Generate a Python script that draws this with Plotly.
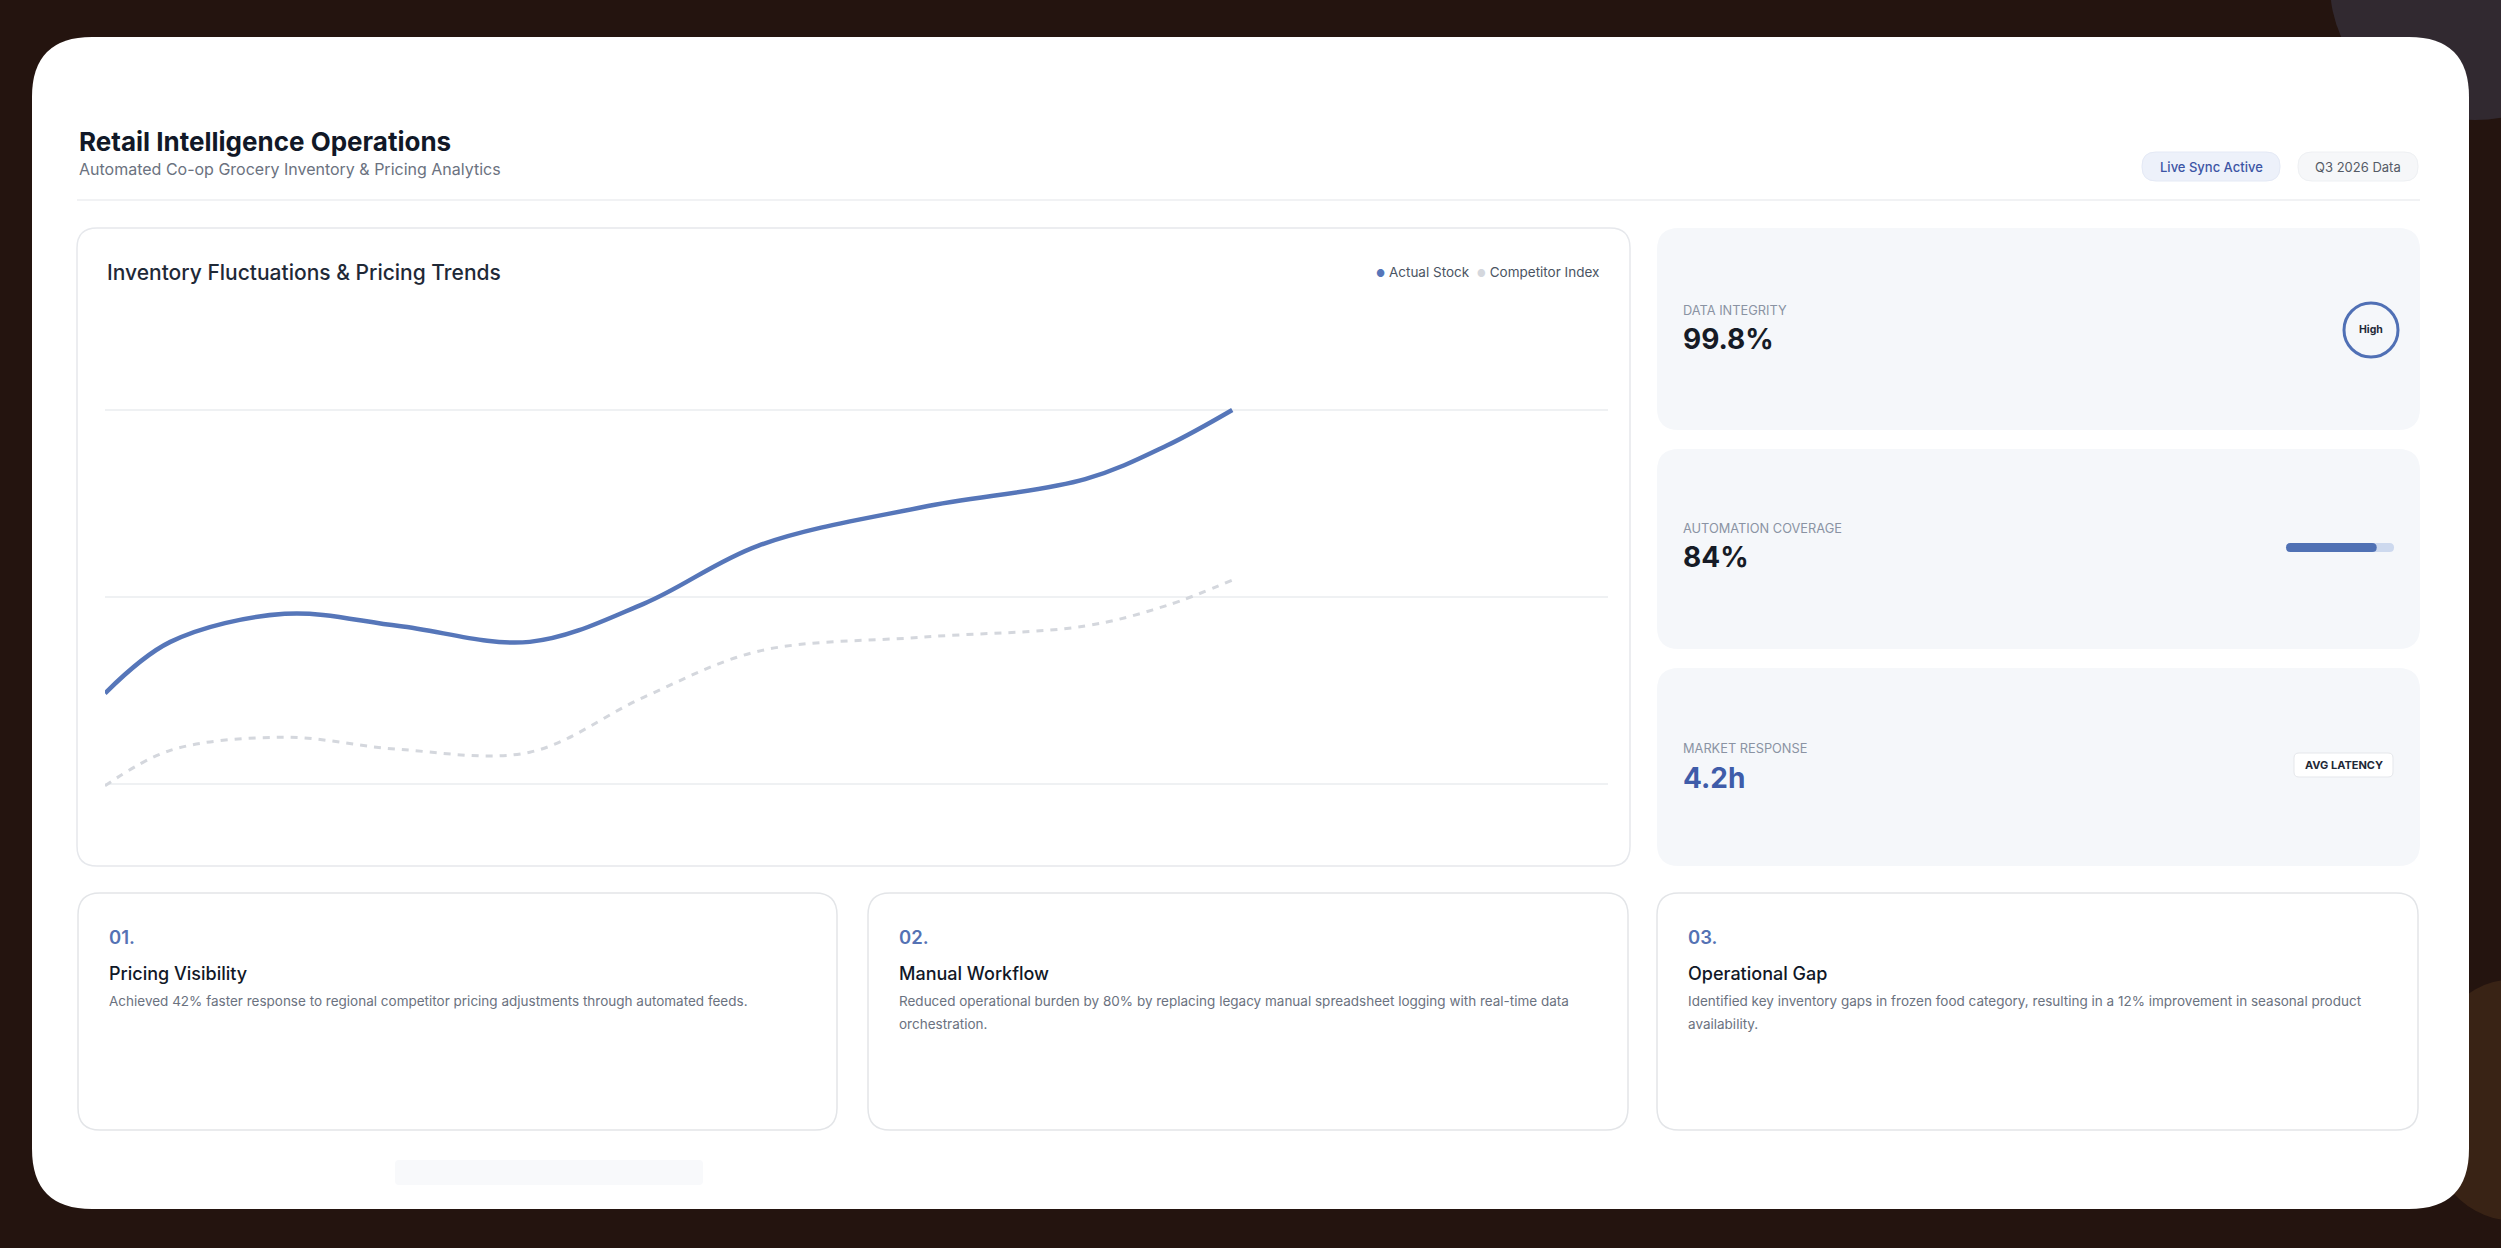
import plotly.graph_objects as go

# ---------------- data ----------------
days = [0, 4, 11, 18, 26, 33, 40, 50, 60, 65, 69]          # day of quarter
actual_stock = [29.7, 35.2, 38.2, 36.9, 35.2, 39.3, 45.5, 49.6, 52.6, 56.2, 60.0]
competitor_index = [19.8, 23.6, 25.0, 23.7, 23.4, 29.3, 34.2, 35.7, 36.9, 39.1, 41.8]
grid_values = [20, 40, 60]
series_names = ["Actual Stock", "Competitor Index"]

kpi_labels = ["DATA INTEGRITY", "AUTOMATION COVERAGE", "MARKET RESPONSE"]
kpi_values = ["99.8%", "84%", "4.2h"]
coverage_pct = 84

card_nums = ["01.", "02.", "03."]
card_titles = ["Pricing Visibility", "Manual Workflow", "Operational Gap"]
card_texts = [
    ["Achieved 42% faster response to regional competitor pricing adjustments through automated feeds."],
    ["Reduced operational burden by 80% by replacing legacy manual spreadsheet logging with real-time data",
     "orchestration."],
    ["Identified key inventory gaps in frozen food category, resulting in a 12% improvement in seasonal product",
     "availability."],
]

# ---------------- geometry helpers ----------------
W, H = 2501, 1248
FONT = "Inter"


def X(px):
    return px / W


def Y(py):
    return 1 - py / H


def rrect(x0, y0, x1, y1, r):
    p = [
        f"M{X(x0 + r)},{Y(y0)}",
        f"L{X(x1 - r)},{Y(y0)}",
        f"Q{X(x1)},{Y(y0)} {X(x1)},{Y(y0 + r)}",
        f"L{X(x1)},{Y(y1 - r)}",
        f"Q{X(x1)},{Y(y1)} {X(x1 - r)},{Y(y1)}",
        f"L{X(x0 + r)},{Y(y1)}",
        f"Q{X(x0)},{Y(y1)} {X(x0)},{Y(y1 - r)}",
        f"L{X(x0)},{Y(y0 + r)}",
        f"Q{X(x0)},{Y(y0)} {X(x0 + r)},{Y(y0)}",
        "Z",
    ]
    return " ".join(p)


shapes = []


def add_rr(x0, y0, x1, y1, r, fill, line=None, lw=0):
    shapes.append(dict(
        type="path", xref="paper", yref="paper", layer="below",
        path=rrect(x0, y0, x1, y1, r), fillcolor=fill,
        line=dict(color=line if line else "rgba(0,0,0,0)", width=lw),
    ))


annotations = []


def txt(px, py, text, size, color, weight=400, anchor="left"):
    annotations.append(dict(
        x=X(px), y=Y(py), xref="paper", yref="paper", text=text,
        showarrow=False, xanchor=anchor, yanchor="middle",
        font=dict(family=FONT, size=size, color=color, weight=weight),
    ))


# background glows (subtle)
shapes.append(dict(type="circle", xref="paper", yref="paper", layer="below",
                   x0=X(2330), x1=X(2620), y0=Y(-150), y1=Y(120),
                   fillcolor="rgba(110,140,200,0.18)", line=dict(width=0)))
shapes.append(dict(type="circle", xref="paper", yref="paper", layer="below",
                   x0=X(2420), x1=X(2600), y0=Y(980), y1=Y(1220),
                   fillcolor="rgba(120,80,40,0.25)", line=dict(width=0)))

# main white card
add_rr(32, 37, 2469, 1209, 60, "#ffffff")

# header
txt(77, 141, "Retail Intelligence Operations", 26, "#111827", 700)
txt(77, 169, "Automated Co-op Grocery Inventory &amp; Pricing Analytics", 16, "#6b7280")
shapes.append(dict(type="line", xref="paper", yref="paper", layer="below",
                   x0=X(77), x1=X(2420), y0=Y(200), y1=Y(200),
                   line=dict(color="#eceef1", width=1.5)))

# badges
add_rr(2142, 152, 2280, 181, 14, "#edf1fa", "#e4e9f5", 1)
txt(2211, 166.5, "Live Sync Active", 13, "#3c55a5", 500, "center")
add_rr(2298, 152, 2418, 181, 14, "#f6f7f9", "#eef0f3", 1)
txt(2358, 166.5, "Q3 2026 Data", 13, "#555b66", 400, "center")

# chart card
add_rr(77, 228, 1630, 866, 20, "#ffffff", "#e6e8ec", 1.5)
txt(105, 272, "Inventory Fluctuations &amp; Pricing Trends", 21, "#1f2937", 500)
txt(1601, 272,
    "<span style='color:#5676b9;font-size:10px'>●</span> Actual Stock  "
    "<span style='color:#d4d7dd;font-size:10px'>●</span> Competitor Index",
    13.5, "#4b5563", 400, "right")

# KPI cards
kpi_y = [(228, 430), (449, 649), (668, 866)]
for (y0, y1) in kpi_y:
    add_rr(1657, y0, 2420, y1, 22, "#f5f7fa")

txt(1681, 310, kpi_labels[0], 12.8, "#8a93a3")
txt(1681, 339, kpi_values[0], 28, "#161b26", 700)
shapes.append(dict(type="circle", xref="paper", yref="paper", layer="below",
                   x0=X(2344), x1=X(2398), y0=Y(357), y1=Y(303),
                   fillcolor="#f5f7fa", line=dict(color="#5070b5", width=3)))
txt(2371, 330, "High", 10.5, "#1f2937", 700, "center")

txt(1681, 529, kpi_labels[1], 12.8, "#8a93a3")
txt(1681, 557, kpi_values[1], 28, "#161b26", 700)
bar_x0, bar_x1 = 2286, 2394
add_rr(bar_x0, 543, bar_x1, 552, 4.5, "#cdd9ee")
add_rr(bar_x0, 543, bar_x0 + (bar_x1 - bar_x0) * coverage_pct / 100, 552, 4.5, "#5071b4")

txt(1681, 748, kpi_labels[2], 12.8, "#8a93a3")
txt(1681, 778, kpi_values[2], 28, "#3f5ca9", 700)
add_rr(2294, 753, 2393, 777, 5, "#ffffff", "#e5e7eb", 1)
txt(2343.5, 765, "AVG LATENCY", 11, "#1f2937", 700, "center")

# bottom cards
card_x = [(78, 837), (868, 1628), (1657, 2418)]
for i, (x0, x1) in enumerate(card_x):
    add_rr(x0, 893, x1, 1130, 22, "#ffffff", "#e3e5e8", 1.5)
    tx = x0 + 29
    txt(tx, 937, card_nums[i], 18.5, "#5572b4", 600)
    txt(tx, 973, card_titles[i], 18, "#111827", 500)
    for j, line in enumerate(card_texts[i]):
        txt(tx, 1001 + 23 * j, line, 13.5, "#6b7280")

# faint placeholder block below
add_rr(395, 1160, 703, 1185, 4, "#f8f9fb")

# ---------------- chart axes ----------------
plot_left, plot_right = 105, 1608
plot_top, plot_bottom = 300, 860
day_max = 92
grid_px = (784, 597, 410)                  # pixel rows of the three gridlines
px_per_unit = (grid_px[0] - grid_px[2]) / (grid_values[2] - grid_values[0])
y_lo = grid_values[0] - (plot_bottom - grid_px[0]) / px_per_unit
y_hi = grid_values[0] + (grid_px[0] - plot_top) / px_per_unit

fig = go.Figure()
fig.add_trace(go.Scatter(
    x=days, y=competitor_index, name=series_names[1], mode="lines",
    line=dict(color="#d4d7dd", width=3, dash="7px,7px", shape="spline", smoothing=1),
    showlegend=False, hoverinfo="skip",
))
fig.add_trace(go.Scatter(
    x=days, y=actual_stock, name=series_names[0], mode="lines",
    line=dict(color="#5676b9", width=4.5, shape="spline", smoothing=1),
    showlegend=False, hoverinfo="skip",
))

fig.update_layout(
    width=W, height=H,
    margin=dict(l=0, r=0, t=0, b=0),
    paper_bgcolor="#24140f",
    plot_bgcolor="rgba(0,0,0,0)",
    font=dict(family=FONT),
    showlegend=False,
    shapes=shapes,
    annotations=annotations,
    xaxis=dict(domain=[X(plot_left), X(plot_right)], range=[0, day_max],
               showgrid=False, zeroline=False, showticklabels=False,
               showline=False, ticks="", fixedrange=True),
    yaxis=dict(domain=[Y(plot_bottom), Y(plot_top)], range=[y_lo, y_hi],
               tickvals=grid_values, showgrid=True, gridcolor="#eff1f3",
               gridwidth=1.5, zeroline=False, showticklabels=False,
               showline=False, ticks="", fixedrange=True),
)

fig.write_html("out.html")
